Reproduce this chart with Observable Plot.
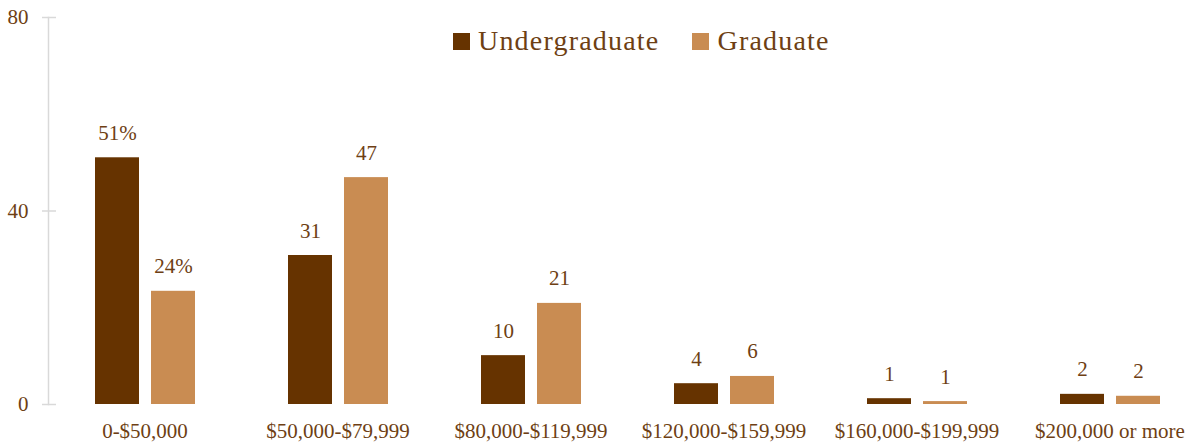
<!DOCTYPE html>
<html>
<head>
<meta charset="utf-8">
<script src="https://cdn.jsdelivr.net/npm/d3@7"></script>
<script src="https://cdn.jsdelivr.net/npm/@observablehq/plot@0.6"></script>
<style>
  html, body { margin: 0; padding: 0; background: #fff; }
  #wrap { position: relative; width: 1199px; height: 444px; font-family: "Liberation Serif", serif; }
  #legend { position: absolute; left: 453px; top: 25px; display: flex; align-items: center; color: #6e3f14; font-size: 28px; letter-spacing: 1.2px; }
  #legend .item { display: flex; align-items: center; margin-right: 33px; }
  #legend .sw { width: 17px; height: 17px; margin-right: 8px; }
</style>
</head>
<body>
<div id="wrap"></div>
<script>
const categories = ["0-$50,000", "$50,000-$79,999", "$80,000-$119,999", "$120,000-$159,999", "$160,000-$199,999", "$200,000 or more"];
const series = ["Undergraduate", "Graduate"];
const undergradValues = [51, 30.8, 10.1, 4.3, 1.2, 2.1];
const graduateValues = [23.4, 46.9, 20.9, 5.8, 0.6, 1.7];
const undergradLabels = ["51%", "31", "10", "4", "1", "2"];
const graduateLabels = ["24%", "47", "21", "6", "1", "2"];
const yTicks = [0, 40, 80];
const colors = ["#663300", "#C98C52"];
const textColor = "#6e3f14";

const data = [];
categories.forEach((c, i) => {
  data.push({category: c, series: series[0], value: undergradValues[i], label: undergradLabels[i]});
  data.push({category: c, series: series[1], value: graduateValues[i], label: graduateLabels[i]});
});

const chart = Plot.plot({
  width: 1199,
  height: 444,
  marginLeft: 48,
  marginRight: -7,
  marginTop: 17,
  marginBottom: 40,
  style: {fontFamily: "Liberation Serif", fontSize: "21px", color: textColor, background: "transparent"},
  fx: {domain: categories, padding: 0, axis: null, label: null},
  x: {domain: series, paddingInner: 12 / 56, paddingOuter: 0.83, axis: null},
  y: {domain: [0, 80], axis: null, label: null},
  color: {domain: series, range: colors},
  marks: [
    Plot.frame({anchor: "left", facetAnchor: "left", stroke: "#d9d9d9", strokeWidth: 1.5, strokeOpacity: 1}),
    Plot.barY(data, {fx: "category", x: "series", y: "value", fill: "series"}),
    Plot.text(data, {fx: "category", x: "series", y: "value", text: "label", lineAnchor: "bottom", dy: -18, fill: textColor, fontSize: 21, letterSpacing: 0.8}),
    Plot.axisY({ticks: yTicks, tickSize: 6, tickPadding: 14, stroke: "#d9d9d9", strokeWidth: 1.5, strokeOpacity: 1, fill: textColor, fontSize: 21, letterSpacing: 0.8, label: null}),
    Plot.axisY({ticks: yTicks, tickSize: -8, tickFormat: () => "", stroke: "#d9d9d9", strokeWidth: 1.5, strokeOpacity: 1, label: null}),
    Plot.axisFx({anchor: "bottom", tickSize: 0, tickPadding: 19, fill: textColor, fontSize: 21, letterSpacing: 0.8, label: null})
  ]
});

const wrap = document.getElementById("wrap");
wrap.appendChild(chart);

const legend = document.createElement("div");
legend.id = "legend";
series.forEach((s, i) => {
  const item = document.createElement("div");
  item.className = "item";
  const sw = document.createElement("span");
  sw.className = "sw";
  sw.style.background = colors[i];
  const t = document.createElement("span");
  t.textContent = s;
  item.appendChild(sw);
  item.appendChild(t);
  legend.appendChild(item);
});
wrap.appendChild(legend);
</script>
</body>
</html>
